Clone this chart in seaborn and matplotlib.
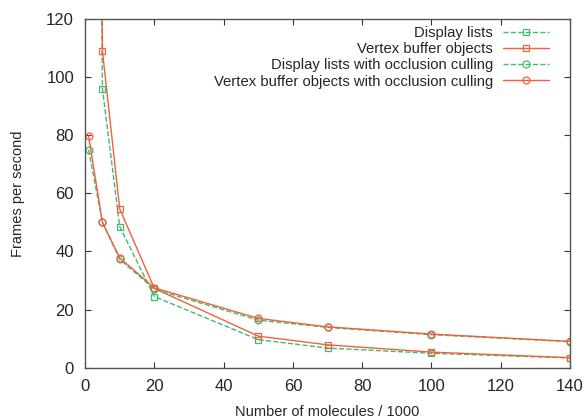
import numpy as np
import pandas as pd
import matplotlib
matplotlib.use('Agg')
import matplotlib.pyplot as plt
import seaborn as sns

molecules = [1, 5, 10, 20, 50, 70, 100, 140]
display_lists = [600, 96, 48.5, 24.5, 9.7, 6.8, 5.0, 3.4]
vbo = [650, 109, 54.6, 27.3, 10.9, 7.9, 5.4, 3.5]
display_lists_occ = [75, 50, 37.3, 27.0, 16.4, 13.9, 11.4, 9.0]
vbo_occ = [79.7, 50, 37.8, 27.5, 17.0, 14.1, 11.6, 9.1]

labels = ['Display lists', 'Vertex buffer objects',
          'Display lists with occlusion culling',
          'Vertex buffer objects with occlusion culling']

sns.set_style('ticks')
plt.rcParams['font.family'] = ['Liberation Sans', 'DejaVu Sans']

green = '#3dbb78'
red = '#f2603c'

styles = [
    (display_lists, green, '--', 's'),
    (vbo, red, '-', 's'),
    (display_lists_occ, green, '--', 'o'),
    (vbo_occ, red, '-', 'o'),
]

fig = plt.figure(figsize=(5.87, 4.18), dpi=100)
ax = fig.add_axes([0.145, 0.12, 0.826, 0.835])

for (vals, color, ls, mk), label in zip(styles, labels):
    sns.lineplot(x=molecules, y=vals, ax=ax, color=color, linestyle=ls,
                 marker=mk, markersize=5, markerfacecolor='none',
                 markeredgecolor=color, markeredgewidth=0.9, linewidth=1.0,
                 label=label)

ax.set_xlim(0, 140)
ax.set_ylim(0, 120)
ax.set_xticks(np.arange(0, 141, 20))
ax.set_yticks(np.arange(0, 121, 20))
ax.tick_params(direction='in', top=True, right=True, length=4,
               labelsize=12, color='#333333', width=0.8, pad=8)
for sp in ax.spines.values():
    sp.set_visible(True)
    sp.set_color('#555555')
    sp.set_linewidth(1.0)

ax.set_xlabel('Number of molecules / 1000', fontsize=10.5, labelpad=8)
ax.set_ylabel('Frames per second', fontsize=10.5, labelpad=15)

leg = ax.legend(loc='upper right', frameon=False, markerfirst=False,
                fontsize=10.7, handlelength=3.1, labelspacing=0.15,
                handletextpad=0.7, borderaxespad=0.5,
                bbox_to_anchor=(0.985, 1.018))
for t in leg.get_texts():
    t.set_ha('right')
leg._legend_box.align = 'right'

fig.savefig('out.png', dpi=100)
